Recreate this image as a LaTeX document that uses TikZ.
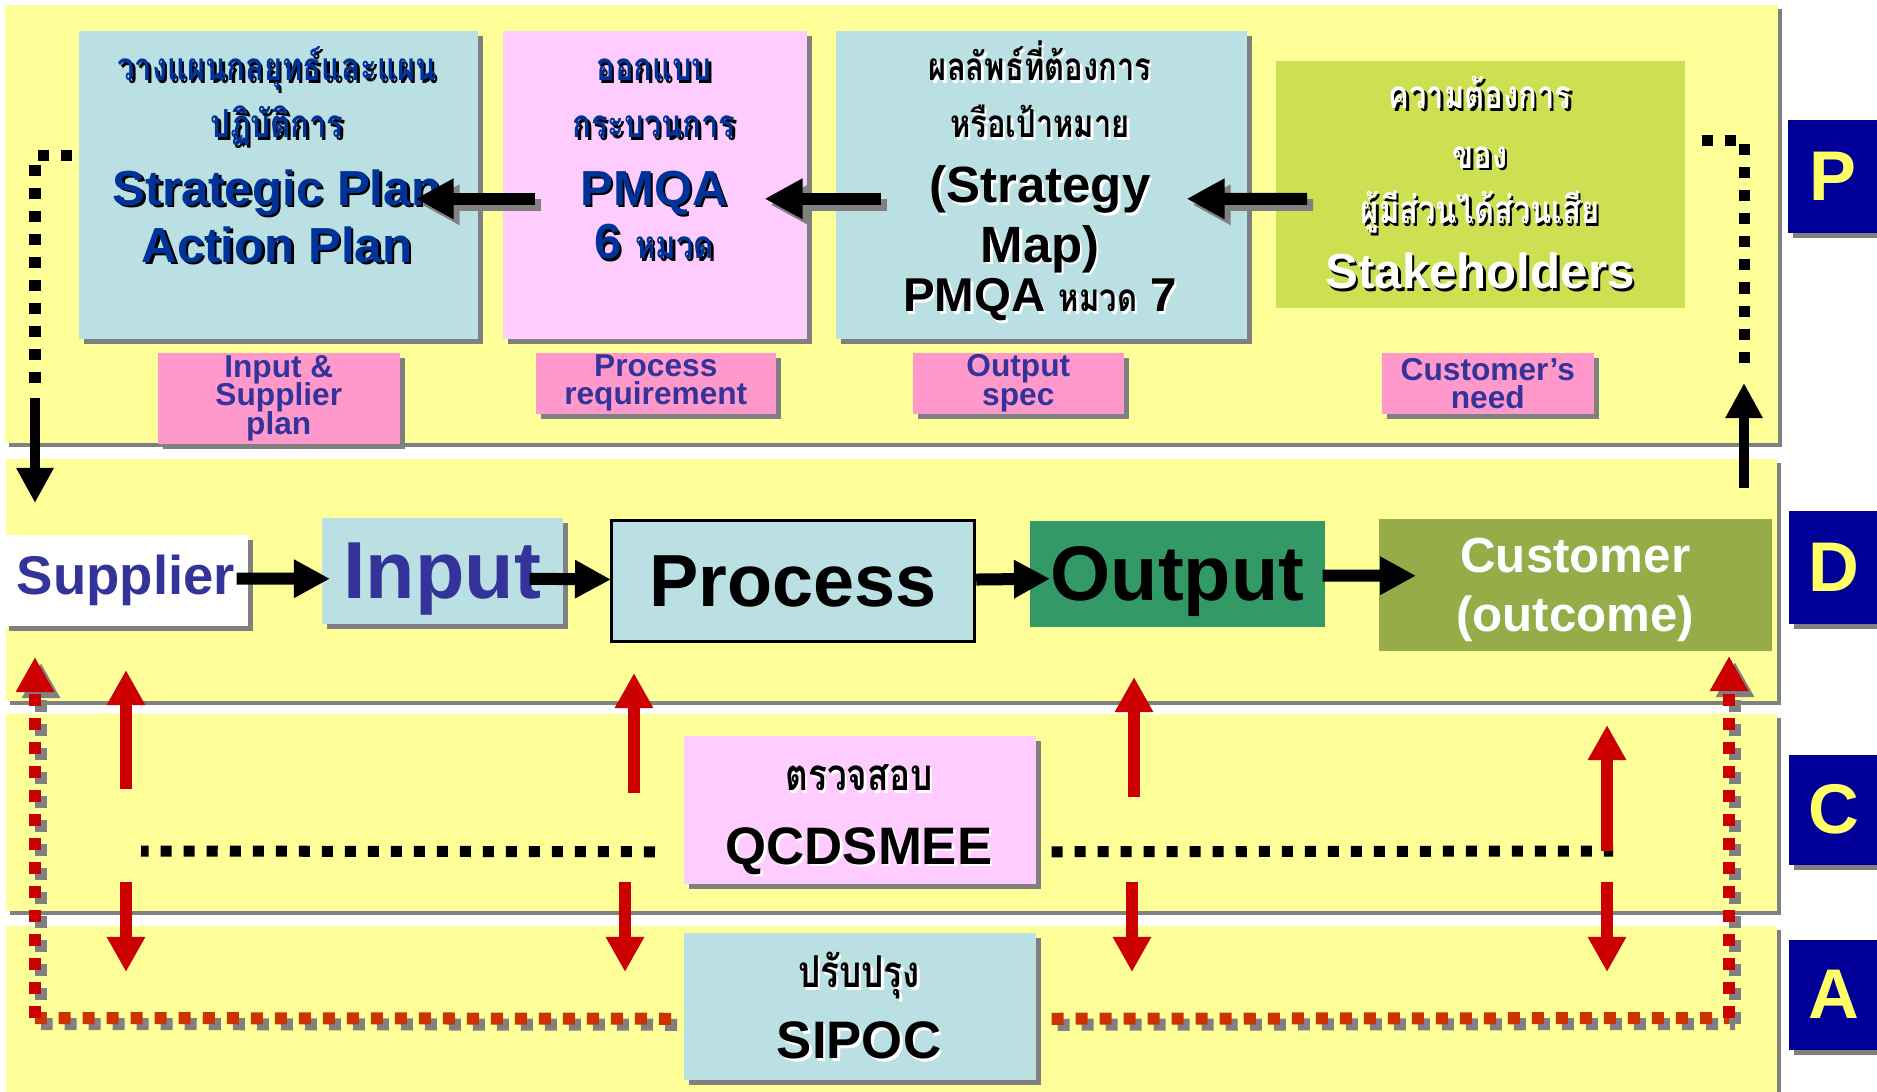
\documentclass[tikz,border=0pt]{standalone}
\usepackage{fontspec}
\setmainfont{Liberation Sans}
\newfontfamily\thaifont[Script=Thai, FakeStretch=0.8]{Loma}
\usepackage{xcolor}
\usepackage{tikz}
\usetikzlibrary{positioning, arrows.meta, shadows}

\definecolor{bandyellow}{RGB}{255,255,153}
\definecolor{paleblue}{RGB}{187,224,227}
\definecolor{palepink}{RGB}{255,204,255}
\definecolor{tagpink}{RGB}{255,153,204}
\definecolor{limegreen}{RGB}{204,224,82}
\definecolor{outgreen}{RGB}{51,153,102}
\definecolor{olivegreen}{RGB}{150,172,72}
\definecolor{phasenavy}{RGB}{0,0,153}
\definecolor{phaseyellow}{RGB}{255,255,102}
\definecolor{navytext}{RGB}{0,51,153}
\definecolor{labelblue}{RGB}{51,51,153}
\definecolor{loopred}{RGB}{204,0,0}
\definecolor{looporange}{RGB}{204,51,0}
\definecolor{shadowgray}{RGB}{128,128,128}

% text with a small drop shadow
\newcommand{\shd}[2]{{\leavevmode\rlap{\kern0.7pt\raisebox{-0.7pt}{\color{#1}#2}}#2}}
\newcommand{\thb}{\thaifont\bfseries\fontsize{11}{16.2}\selectfont}
\newcommand{\thr}{\thaifont\fontsize{11}{16.2}\selectfont}
% fixed height of a first line
\newcommand{\topline}{\rule{0pt}{14pt}}
% lines closer than their glyphs
\newcommand{\tightlines}{\lineskiplimit-20pt\relax}

\begin{document}
\begin{tikzpicture}[x=0.01cm, y=-0.01cm]

% Styles
\tikzset{
	bandbox/.style={rectangle, fill=bandyellow, anchor=north west, inner sep=0pt,
		general shadow={fill=shadowgray, shadow xshift=0.04cm, shadow yshift=-0.04cm}},
	shadowed/.style={general shadow={fill=shadowgray, shadow xshift=0.05cm, shadow yshift=-0.05cm}},
	panel/.style={rectangle, anchor=north west, inner sep=0pt, align=center},
	phasebox/.style={panel, shadowed, fill=phasenavy, text=phaseyellow,
		minimum width=0.90cm, font=\bfseries\fontsize{20}{24}\selectfont},
	tagbox/.style={panel, shadowed, fill=tagpink, text=labelblue, minimum height=0.61cm,
		font=\bfseries\fontsize{9}{8}\selectfont\tightlines},
	boxtext/.style={anchor=north, align=center, inner sep=0pt},
	dropped/.style={shadowgray, transform canvas={shift={(0.06cm,-0.06cm)}}},
	backarrow/.style={line width=0.12cm, -{Triangle[length=0.38cm, width=0.38cm]}},
	flowarrow/.style={line width=0.12cm, -{Triangle[length=0.36cm, width=0.36cm]}},
	looparrow/.style={line width=0.1cm, -{Triangle[length=0.35cm, width=0.35cm]}},
	loopdots/.style={line width=0.11cm, dash pattern=on 0.11cm off 0.12cm},
	redarrow/.style={loopred, line width=0.12cm, -{Triangle[length=0.35cm, width=0.36cm]}},
	reddots/.style={line width=0.12cm, dash pattern=on 0.12cm off 0.12cm},
	redtip/.style={-{Triangle[length=0.35cm, width=0.36cm]}}
}

\fill[white] (0,0) rectangle (1877,1092);
\useasboundingbox (0,0) rectangle (1877,1092);

% Bands
\node (bandP) [bandbox, minimum width=17.72cm, minimum height=4.38cm] at (4,4) {};
\node (bandD) [bandbox, minimum width=17.70cm, minimum height=2.42cm] at (5,458) {};
\node (bandC) [bandbox, minimum width=17.70cm, minimum height=1.97cm] at (5,713) {};
\node (bandA) [bandbox, minimum width=17.70cm, minimum height=1.80cm] at (5,925) {};

% PDCA letters
\node (letterP) [phasebox, minimum height=1.13cm] at (1787,119) {P};
\node (letterD) [phasebox, minimum height=1.13cm] at (1788,510) {D};
\node (letterC) [phasebox, minimum height=1.10cm] at (1788,754) {C};
\node (letterA) [phasebox, minimum height=1.10cm] at (1788,939) {A};

% Plan boxes
\node (strat) [panel, shadowed, fill=paleblue, minimum width=3.99cm, minimum height=3.08cm] at (78,30) {};
\node (pmqa) [panel, shadowed, fill=palepink, minimum width=3.04cm, minimum height=3.08cm] at (502,30) {};
\node (goal) [panel, shadowed, fill=paleblue, minimum width=4.11cm, minimum height=3.08cm] at (835,30) {};
\node (stake) [panel, fill=limegreen, minimum width=4.09cm, minimum height=2.47cm] at (1275,60) {};

% Plan box texts
\node (stratText) [boxtext, text=navytext, font=\bfseries\fontsize{14}{16.2}\selectfont] at (277,31)
	{\topline\shd{black}{\thb วางแผนกลยุทธ์และแผน}\\
	 \shd{black}{\thb ปฏิบัติการ}\\[3pt]
	 \shd{black}{Strategic Plan}\\
	 \shd{black}{Action Plan}};
\node (pmqaText) [boxtext, text=navytext, font=\bfseries\fontsize{14}{16.2}\selectfont] at (654,31)
	{\topline\shd{black}{\thb ออกแบบ}\\
	 \shd{black}{\thb กระบวนการ}\\[3pt]
	 \shd{black}{PMQA}\\[-1pt]
	 \shd{black}{6 {\thb หมวด}}};
\node (goalText) [boxtext, text=black, font=\bfseries\fontsize{14.5}{16.2}\selectfont] at (1040,31)
	{\topline\shd{white}{\thb ผลลัพธ์ที่ต้องการ}\\
	 \shd{white}{\thb หรือเป้าหมาย}\\[2.3pt]
	 \shd{white}{(Strategy}\\[0.6pt]
	 \shd{white}{Map)}\\[-2pt]
	 \shd{white}{\fontsize{13.5}{16.2}\selectfont PMQA {\thb หมวด} 7}};
\node (stakeText) [boxtext, text=white, font=\bfseries\fontsize{14}{16.2}\selectfont] at (1480,59)
	{\topline\shd{black}{\thr ความต้องการ}\\[0.6pt]
	 \shd{black}{\thr ของ}\\[-0.3pt]
	 \shd{black}{\thr ผู้มีส่วนได้ส่วนเสีย}\\[2.3pt]
	 \shd{black}{Stakeholders}};

% Requirement tags
\node (tagInput) [tagbox, minimum width=2.42cm, minimum height=0.91cm] at (157,352) {Input \&\\Supplier\\plan};
\node (tagProcess) [tagbox, minimum width=2.40cm] at (535,352) {Process\\requirement};
\node (tagOutput) [tagbox, minimum width=2.11cm] at (912,352) {Output\\spec};
\node (tagNeed) [tagbox, minimum width=2.12cm] at (1381,352) {Customer’s\\need};

% Do: SIPOC chain
\node (supplier) [panel, shadowed, fill=white, text=labelblue, minimum width=2.44cm, minimum height=0.91cm,
	font=\bfseries\fontsize{15.5}{18}\selectfont] at (3,534) {Supplier};
\node (input) [panel, shadowed, fill=paleblue, text=labelblue, minimum width=2.41cm, minimum height=1.06cm,
	text depth=0pt, font=\bfseries\fontsize{23}{27}\selectfont] at (321,517) {Input};
\node (process) [panel, fill=paleblue, draw=black, line width=0.03cm, minimum width=3.63cm, minimum height=1.21cm,
	font=\bfseries\fontsize{21}{25}\selectfont] at (610,519) {Process};
\node (output) [panel, fill=outgreen, minimum width=2.95cm, minimum height=1.06cm,
	text depth=0pt, font=\bfseries\fontsize{22}{26}\selectfont] at (1029,520) {Output};
\node (customer) [panel, fill=olivegreen, text=white, minimum width=3.93cm, minimum height=1.32cm,
	text depth=0pt, font=\bfseries\fontsize{14}{16.8}\selectfont] at (1378,518) {Customer\\(outcome)};

% Check and Act boxes
\node (check) [panel, shadowed, fill=palepink, minimum width=3.52cm, minimum height=1.48cm] at (683,735) {};
\node (improve) [panel, shadowed, fill=paleblue, minimum width=3.52cm, minimum height=1.47cm] at (683,932) {};
\node (checkText) [boxtext, font=\bfseries\fontsize{15}{20.8}\selectfont] at (859,741)
	{\topline\shd{white}{\thaifont\fontsize{12.5}{20.8}\selectfont ตรวจสอบ}\\ \shd{white}{QCDSMEE}};
\node (improveText) [boxtext, font=\bfseries\fontsize{15}{20.2}\selectfont] at (859,938)
	{\topline\shd{white}{\thaifont\fontsize{12.5}{20.2}\selectfont ปรับปรุง}\\ \shd{white}{SIPOC}};

% Free ends of the loops
\coordinate (planLeftDots) at (35,388);
\coordinate (planLeftStart) at (35,398);
\coordinate (planLeftEnd) at (35,503);
\coordinate (planRightDots) at (1744,367);
\coordinate (planRightStart) at (1744,488);
\coordinate (planRightEnd) at (1744,383);
\coordinate (checkLeftEnd) at (141,851);
\coordinate (checkRightEnd) at (1607,851);
\coordinate (up1) at (126,789);
\coordinate (up1tip) at (126,670);
\coordinate (up2) at (634,793);
\coordinate (up2tip) at (634,673);
\coordinate (up3) at (1134,797);
\coordinate (up3tip) at (1134,677);
\coordinate (up4tip) at (1607,725);
\coordinate (down1) at (126,882);
\coordinate (down1tip) at (126,972);
\coordinate (down2) at (625,882);
\coordinate (down2tip) at (625,972);
\coordinate (down3) at (1132,882);
\coordinate (down3tip) at (1132,972);
\coordinate (down4) at (1607,882);
\coordinate (down4tip) at (1607,972);
\coordinate (actLeftCorner) at (35,1018);
\coordinate (actLeftTip) at (35,657);
\coordinate (actRightCorner) at (1729,1018);
\coordinate (actRightTip) at (1729,656);

% Arrows: plan chain (shadow first)
\draw[backarrow, dropped] ([xshift=0.33cm, yshift=-0.14cm]pmqa.west) -- ([xshift=-0.63cm, yshift=-0.14cm]strat.east);
\draw[backarrow, dropped] ([xshift=0.46cm, yshift=-0.14cm]goal.west) -- ([xshift=-0.43cm, yshift=-0.14cm]pmqa.east);
\draw[backarrow, dropped] ([xshift=0.32cm, yshift=-0.145cm]stake.west) -- ([xshift=-0.61cm, yshift=-0.14cm]goal.east);
\draw[backarrow] ([xshift=0.33cm, yshift=-0.14cm]pmqa.west) -- ([xshift=-0.63cm, yshift=-0.14cm]strat.east);
\draw[backarrow] ([xshift=0.46cm, yshift=-0.14cm]goal.west) -- ([xshift=-0.43cm, yshift=-0.14cm]pmqa.east);
\draw[backarrow] ([xshift=0.32cm, yshift=-0.145cm]stake.west) -- ([xshift=-0.61cm, yshift=-0.14cm]goal.east);

% Arrows: SIPOC chain
\draw[flowarrow] ([xshift=-0.12cm, yshift=0.015cm]supplier.east) -- ([xshift=0.09cm, yshift=-0.08cm]input.west);
\draw[flowarrow] ([xshift=-0.34cm, yshift=-0.08cm]input.east) -- ([xshift=0.01cm, yshift=0.015cm]process.west);
\draw[flowarrow] ([yshift=0.015cm]process.east) -- ([xshift=0.21cm, yshift=-0.05cm]output.west);
\draw[flowarrow] ([xshift=-0.03cm, yshift=-0.02cm]output.east) -- ([xshift=0.38cm, yshift=0.09cm]customer.west);

% Plan loops
\draw[loopdots] ([xshift=-0.06cm, yshift=0.29cm]strat.west) -| (planLeftDots);
\draw[looparrow] (planLeftStart) -- (planLeftEnd);
\draw[loopdots] ([xshift=0.16cm, yshift=0.435cm]stake.east) -| (planRightDots);
\draw[looparrow] (planRightStart) -- (planRightEnd);

% Check lines
\draw[loopdots] ([xshift=-0.28cm, yshift=-0.42cm]check.west) -- (checkLeftEnd);
\draw[loopdots] ([xshift=0.15cm, yshift=-0.42cm]check.east) -- ([xshift=0.06cm]checkRightEnd);

% Red arrows: up to Do, down to Act
\draw[redarrow] (up1) -- (up1tip);
\draw[redarrow] (up2) -- (up2tip);
\draw[redarrow] (up3) -- (up3tip);
\draw[redarrow] (checkRightEnd) -- (up4tip);
\draw[redarrow] (down1) -- (down1tip);
\draw[redarrow] (down2) -- (down2tip);
\draw[redarrow] (down3) -- (down3tip);
\draw[redarrow] (down4) -- (down4tip);

% Act loops (shadow first)
\draw[reddots, dropped] ([xshift=-0.12cm, yshift=-0.125cm]improve.west) -- (actLeftCorner);
\draw[reddots, redtip, dropped] (actLeftCorner) -- (actLeftTip);
\draw[reddots, dropped] ([xshift=0.15cm, yshift=-0.125cm]improve.east) -- (actRightCorner);
\draw[reddots, redtip, dropped] (actRightCorner) -- (actRightTip);
\draw[reddots, looporange] ([xshift=-0.12cm, yshift=-0.125cm]improve.west) -- (actLeftCorner);
\draw[reddots, redtip, loopred] (actLeftCorner) -- (actLeftTip);
\draw[reddots, looporange] ([xshift=0.15cm, yshift=-0.125cm]improve.east) -- (actRightCorner);
\draw[reddots, redtip, loopred] (actRightCorner) -- (actRightTip);

\end{tikzpicture}
\end{document}
